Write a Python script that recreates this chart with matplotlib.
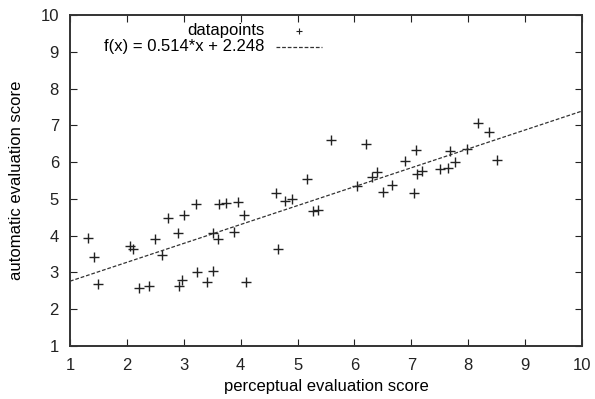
#!/usr/bin/env python3
"""Perceptual vs automatic evaluation scores with linear fit (gnuplot look)."""
import numpy as np
import matplotlib
matplotlib.use("Agg")
import matplotlib.pyplot as plt

# perceptual score (x) / automatic score (y)
perceptual = [
    1.32, 1.43, 1.50, 2.05, 2.10, 2.22, 2.39, 2.50, 2.62, 2.73,
    2.89, 2.92, 2.96, 3.00, 3.22, 3.23, 3.40, 3.52, 3.52, 3.60,
    3.62, 3.74, 3.89, 3.96, 4.05, 4.10, 4.62, 4.66, 4.78, 4.90,
    5.16, 5.28, 5.36, 5.58, 6.04, 6.20, 6.31, 6.40, 6.50, 6.66,
    6.88, 7.04, 7.08, 7.10, 7.18, 7.50, 7.64, 7.68, 7.76, 7.98,
    8.18, 8.36, 8.50,
]
automatic = [
    3.95, 3.43, 2.69, 3.72, 3.63, 2.58, 2.63, 3.90, 3.48, 4.48,
    4.08, 2.64, 2.79, 4.57, 4.86, 3.02, 2.74, 4.07, 3.04, 3.90,
    4.86, 4.89, 4.11, 4.91, 4.55, 2.75, 5.17, 3.63, 4.95, 4.99,
    5.54, 4.67, 4.71, 6.61, 5.35, 6.49, 5.59, 5.74, 5.20, 5.39,
    6.03, 5.15, 6.34, 5.67, 5.75, 5.82, 5.85, 6.31, 6.00, 6.36,
    7.06, 6.81, 6.05,
]
slope, intercept = 0.514, 2.248
fit_label = "f(x) = 0.514*x + 2.248"

plt.rcParams["font.family"] = ["Liberation Sans", "DejaVu Sans"]

fig = plt.figure(figsize=(5.95, 3.99), dpi=100)
ax = fig.add_axes([70 / 595, 1 - 346 / 399, 512 / 595, 331 / 399])

ax.plot(perceptual, automatic, linestyle="none", marker="+", markersize=6.5,
        markeredgewidth=1.0, color="#222222")
xs = np.array([1, 10])
ax.plot(xs, slope * xs + intercept, linestyle=(0, (3, 1.5)), linewidth=0.9,
        color="#333333")

ax.set_xlim(1, 10)
ax.set_ylim(1, 10)
ax.set_xticks(range(1, 11))
ax.set_yticks(range(1, 11))
ax.tick_params(direction="in", top=True, right=True, length=5, width=0.8,
               labelsize=12, colors="#222222")
ax.tick_params(axis="x", pad=9)
ax.tick_params(axis="y", pad=8)
for sp in ax.spines.values():
    sp.set_linewidth(1.4)
    sp.set_color("#333333")

ax.set_xlabel("perceptual evaluation score", fontsize=12, labelpad=4)
ax.set_ylabel("automatic evaluation score", fontsize=12, labelpad=12)

# gnuplot-style key: right-aligned text followed by sample
ax.text(0.379, 0.9526, "datapoints", transform=ax.transAxes, ha="right",
        va="center", fontsize=12)
ax.text(0.379, 0.904, fit_label, transform=ax.transAxes, ha="right",
        va="center", fontsize=12)
ax.plot([0.447], [0.9526], transform=ax.transAxes, linestyle="none",
        marker="+", markersize=5, markeredgewidth=0.8, color="#222222")
ax.plot([0.402, 0.492], [0.904, 0.904], transform=ax.transAxes,
        linestyle=(0, (3, 1.5)), linewidth=0.9, color="#333333")

fig.savefig("out.png", dpi=100)
